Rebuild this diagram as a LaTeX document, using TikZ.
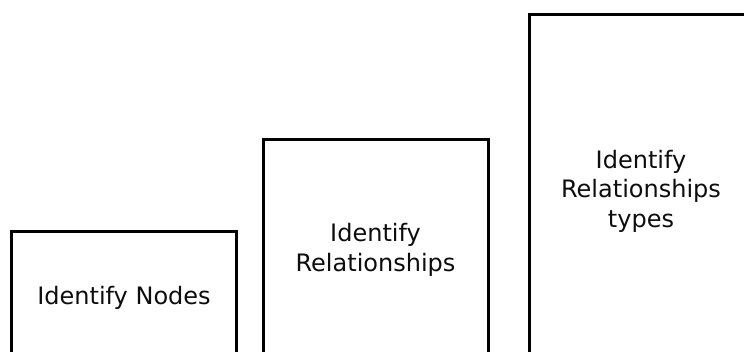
\documentclass[tikz,border=0pt]{standalone}
\usepackage{fontspec}
\setmainfont{DejaVu Sans}
\begin{document}
\begin{tikzpicture}[x=1pt,y=1pt,
  stepbox/.style={draw=black, line width=3pt, fill=white, inner sep=0pt,
    align=center, font=\fontsize{24}{29.5}\selectfont, text=black!95}]
\useasboundingbox (0,0) rectangle (744,352);
\clip (0,0) rectangle (744,352);
\fill[white] (0,0) rectangle (744,352);
\node[stepbox, minimum width=225pt, minimum height=132pt] (nodes) at (124,54) {Identify Nodes};
\node[stepbox, minimum width=225pt, minimum height=220pt] (rels) at (375.5,102) {Identify\\Relationships};
\node[stepbox, minimum width=223pt, minimum height=352pt] (types) at (641,161) {Identify\\Relationships\\types};
\end{tikzpicture}
\end{document}
